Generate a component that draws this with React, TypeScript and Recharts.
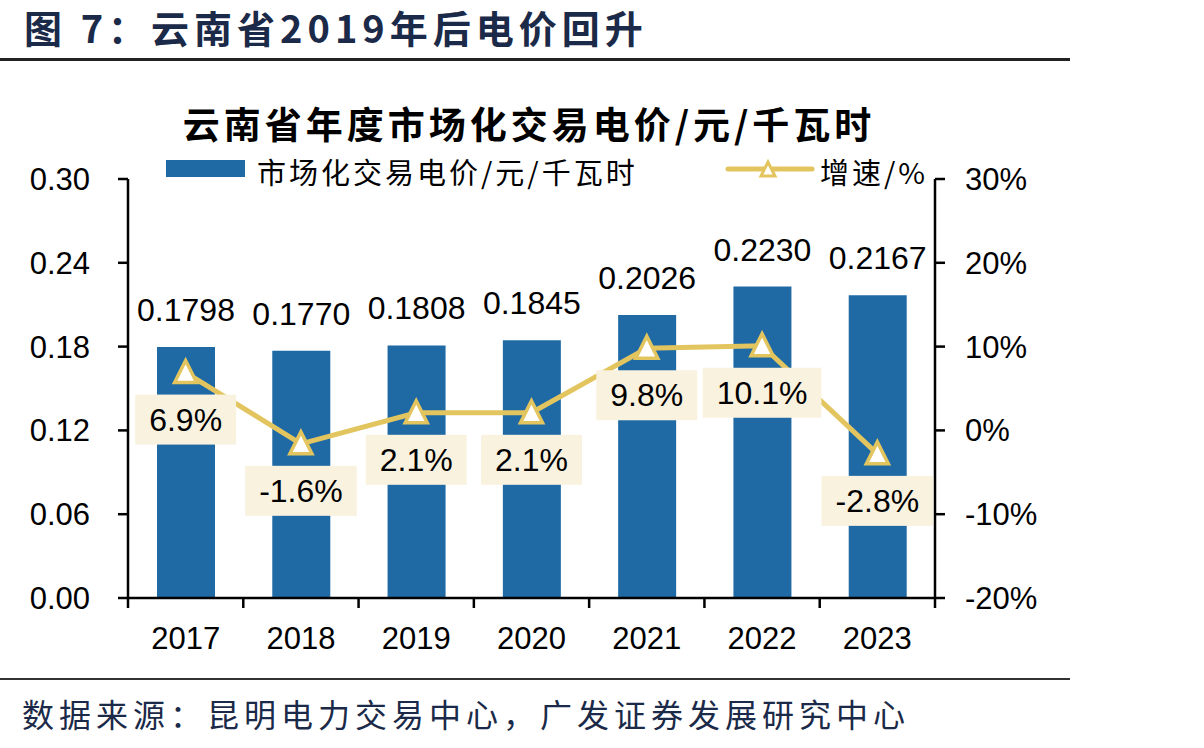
import React from 'react';
import { ComposedChart, Bar, Line, XAxis, YAxis, LabelList } from 'recharts';

const years = ['2017', '2018', '2019', '2020', '2021', '2022', '2023'];
const prices = [0.1798, 0.177, 0.1808, 0.1845, 0.2026, 0.223, 0.2167];
const growth = [6.9, -1.6, 2.1, 2.1, 9.8, 10.1, -2.8];
const priceTicks = [0, 0.06, 0.12, 0.18, 0.24, 0.3];
const growthTicks = [-20, -10, 0, 10, 20, 30];

const data = years.map((year, i) => ({ year, price: prices[i], growth: growth[i] }));

const BLUE = '#1F6AA5';
const GOLD = '#E3C55F';
const NAVY = '#1B2A48';
const LATIN = '"Liberation Sans", Arial, sans-serif';
const CJK = '"Noto Sans CJK SC", "Noto Sans", sans-serif';

// rough Arial widths, used to size the label boxes
const charW: Record<string, number> = { '.': 0.278, '%': 0.889, '-': 0.333 };
const textWidth = (s: string, fs: number) =>
  s.split('').reduce((w, c) => w + (charW[c] ?? 0.556) * fs, 0);

const YearTick = (props: any) => {
  const { x, y, payload, index } = props;
  const half = payload?.offset || (935 - 128) / years.length / 2;
  const axisY = y - 29;
  return (
    <g>
      <line x1={x - half} x2={x - half} y1={axisY} y2={axisY + 10} stroke="#000" strokeWidth={2.5} />
      {index === years.length - 1 && (
        <line x1={x + half} x2={x + half} y1={axisY} y2={axisY + 10} stroke="#000" strokeWidth={2.5} />
      )}
      <text x={x} y={y} dy="0.71em" textAnchor="middle" fontSize={31} fontFamily={LATIN} fill="#000">
        {payload.value}
      </text>
    </g>
  );
};

const GrowthLabel = (props: any) => {
  const { x, y, value } = props;
  const text = `${value}%`;
  const w = textWidth(text, 32) + 28;
  const cy = y + 47;
  return (
    <g>
      <rect x={x - w / 2} y={cy - 25} width={w} height={50} fill="#F9F2DF" />
      <text x={x} y={cy + 11} textAnchor="middle" fontSize={32} fontFamily={LATIN} fill="#000">
        {text}
      </text>
    </g>
  );
};

const Triangle = (props: any) => {
  const { cx, cy } = props;
  if (cx == null || cy == null) return null;
  return (
    <polygon
      points={`${cx},${cy - 12} ${cx - 11},${cy + 10} ${cx + 11},${cy + 10}`}
      fill="#fff"
      stroke={GOLD}
      strokeWidth={3.5}
      strokeLinejoin="miter"
    />
  );
};

const App: React.FC = () => {
  return (
    <div style={{ position: 'absolute', left: 0, top: 0, width: 1204, height: 748, background: '#fff', overflow: 'hidden' }}>
      {/* figure title */}
      <div style={{ position: 'absolute', left: 24, top: 8, fontFamily: CJK, fontWeight: 700, fontSize: 38, lineHeight: '38px', color: NAVY, letterSpacing: 5, whiteSpace: 'nowrap' }}>
        图 7：云南省2019年后电价回升
      </div>
      <div style={{ position: 'absolute', left: 0, top: 58, width: 1070, height: 3, background: '#222' }} />

      <ComposedChart width={1204} height={748} data={data} margin={{ top: 179, right: 0, bottom: 0, left: 0 }}>
        <XAxis
          dataKey="year"
          height={150}
          axisLine={{ stroke: '#000', strokeWidth: 2.5 }}
          tickLine={false}
          tickSize={0}
          tickMargin={29}
          tick={<YearTick />}
        />
        <YAxis
          yAxisId="left"
          width={128}
          domain={[0, 0.3]}
          ticks={priceTicks}
          tickFormatter={(v: number) => v.toFixed(2)}
          axisLine={{ stroke: '#000', strokeWidth: 2.5 }}
          tickLine={{ stroke: '#000', strokeWidth: 2.5 }}
          tickSize={10}
          tickMargin={28}
          tick={{ fontSize: 31, fontFamily: LATIN, fill: '#000' }}
        />
        <YAxis
          yAxisId="right"
          orientation="right"
          width={269}
          domain={[-20, 30]}
          ticks={growthTicks}
          tickFormatter={(v: number) => `${v}%`}
          axisLine={{ stroke: '#000', strokeWidth: 2.5 }}
          tickLine={{ stroke: '#000', strokeWidth: 2.5 }}
          tickSize={10}
          tickMargin={20}
          tick={{ fontSize: 31, fontFamily: LATIN, fill: '#000' }}
        />
        <Bar yAxisId="left" dataKey="price" fill={BLUE} barSize={58} isAnimationActive={false}>
          <LabelList
            dataKey="price"
            position="top"
            offset={26}
            formatter={(v: any) => Number(v).toFixed(4)}
            style={{ fontSize: 32, fontFamily: LATIN, fill: '#000' }}
          />
        </Bar>
        {/* label boxes go under the line, so they sit in their own invisible series */}
        <Line yAxisId="right" dataKey="growth" stroke="none" dot={false} activeDot={false} isAnimationActive={false}>
          <LabelList dataKey="growth" content={<GrowthLabel />} />
        </Line>
        <Line
          yAxisId="right"
          dataKey="growth"
          type="linear"
          stroke={GOLD}
          strokeWidth={5}
          dot={<Triangle />}
          activeDot={false}
          isAnimationActive={false}
        />
      </ComposedChart>

      {/* chart title */}
      <div style={{ position: 'absolute', left: 0, width: 1058, top: 105, textAlign: 'center', fontFamily: CJK, fontWeight: 700, fontSize: 37, lineHeight: '37px', color: '#000', letterSpacing: 4, whiteSpace: 'nowrap' }}>
        云南省年度市场化交易电价/元/千瓦时
      </div>

      {/* legend */}
      <div style={{ position: 'absolute', left: 166, top: 160, width: 79, height: 17, background: BLUE }} />
      <div style={{ position: 'absolute', left: 257, top: 157, fontFamily: CJK, fontSize: 29, lineHeight: '29px', color: '#000', letterSpacing: 3, whiteSpace: 'nowrap' }}>
        市场化交易电价/元/千瓦时
      </div>
      <svg style={{ position: 'absolute', left: 720, top: 151 }} width={100} height={40}>
        <line x1={8} x2={92} y1={18} y2={18} stroke={GOLD} strokeWidth={5} strokeLinecap="round" />
        <polygon points="48,11 41,25 55,25" fill="#fff" stroke={GOLD} strokeWidth={3} />
      </svg>
      <div style={{ position: 'absolute', left: 820, top: 157, fontFamily: CJK, fontSize: 29, lineHeight: '29px', color: '#000', letterSpacing: 3, whiteSpace: 'nowrap' }}>
        增速/%
      </div>

      {/* source */}
      <div style={{ position: 'absolute', left: 0, top: 678, width: 1070, height: 2, background: '#333' }} />
      <div style={{ position: 'absolute', left: 22, top: 697, fontFamily: CJK, fontSize: 32, lineHeight: '32px', color: NAVY, letterSpacing: 5, whiteSpace: 'nowrap' }}>
        数据来源：昆明电力交易中心，广发证券发展研究中心
      </div>
    </div>
  );
};

export default App;
